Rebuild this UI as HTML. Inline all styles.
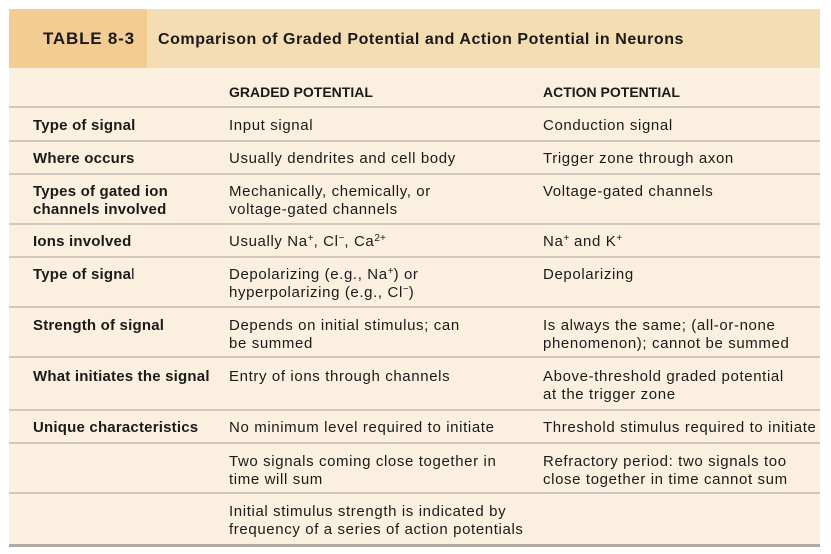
<!DOCTYPE html>
<html><head><meta charset="utf-8"><style>
body{margin:0;width:831px;height:554px;background:#fff;position:relative;overflow:hidden;font-family:"Liberation Sans","DejaVu Sans",sans-serif;color:#1a1a1a}
.a{position:absolute}
.t{position:absolute;font-size:15px;line-height:18px;white-space:nowrap;letter-spacing:0.62px;margin-top:1px}
.b{font-weight:bold;letter-spacing:0.2px}
.h{letter-spacing:0;font-size:14px}
.l{position:absolute;left:9px;width:811px;height:2px;background:#cfc8bd}
sup{font-size:10px;line-height:0;vertical-align:5px;letter-spacing:0}
</style></head><body>
<div class="a" style="left:9px;top:9px;width:138px;height:59px;background:#f2cc92"></div>
<div class="a" style="left:147px;top:9px;width:673px;height:59px;background:#f4ddb3"></div>
<div class="a" style="left:9px;top:68px;width:811px;height:477px;background:#fbf0df"></div>
<div class="t b" style="left:43px;top:29px;font-size:17px;letter-spacing:0.8px">TABLE 8-3</div>
<div class="t b" style="left:158px;top:30px;font-size:16px;letter-spacing:0.55px">Comparison of Graded Potential and Action Potential in Neurons</div>
<div class="t b h" style="left:229px;top:82px">GRADED POTENTIAL</div>
<div class="t b h" style="left:543px;top:82px">ACTION POTENTIAL</div>
<div class="l" style="top:106px"></div>
<div class="l" style="top:140px"></div>
<div class="l" style="top:173px"></div>
<div class="l" style="top:223px"></div>
<div class="l" style="top:256px"></div>
<div class="l" style="top:306px"></div>
<div class="l" style="top:356px"></div>
<div class="l" style="top:409px"></div>
<div class="l" style="top:442px"></div>
<div class="l" style="top:492px"></div>
<div class="l" style="top:544px;height:3px;background:#b0aaa2"></div>

<div class="t b" style="left:33px;top:116px">Type of signal</div>
<div class="t" style="left:229px;top:116px">Input signal</div>
<div class="t" style="left:543px;top:116px">Conduction signal</div>

<div class="t b" style="left:33px;top:149px">Where occurs</div>
<div class="t" style="left:229px;top:149px">Usually dendrites and cell body</div>
<div class="t" style="left:543px;top:149px">Trigger zone through axon</div>

<div class="t b" style="left:33px;top:182px">Types of gated ion<br>channels involved</div>
<div class="t" style="left:229px;top:182px">Mechanically, chemically, or<br>voltage-gated channels</div>
<div class="t" style="left:543px;top:182px">Voltage-gated channels</div>

<div class="t b" style="left:33px;top:232px">Ions involved</div>
<div class="t" style="left:229px;top:232px">Usually Na<sup>+</sup>, Cl<sup>−</sup>, Ca<sup>2+</sup></div>
<div class="t" style="left:543px;top:232px">Na<sup>+</sup> and K<sup>+</sup></div>

<div class="t b" style="left:33px;top:265px">Type of signa<span style="font-weight:normal">l</span></div>
<div class="t" style="left:229px;top:265px">Depolarizing (e.g., Na<sup>+</sup>) or<br>hyperpolarizing (e.g., Cl<sup>−</sup>)</div>
<div class="t" style="left:543px;top:265px">Depolarizing</div>

<div class="t b" style="left:33px;top:316px">Strength of signal</div>
<div class="t" style="left:229px;top:316px">Depends on initial stimulus; can<br>be summed</div>
<div class="t" style="left:543px;top:316px">Is always the same; (all-or-none<br>phenomenon); cannot be summed</div>

<div class="t b" style="left:33px;top:367px">What initiates the signal</div>
<div class="t" style="left:229px;top:367px">Entry of ions through channels</div>
<div class="t" style="left:543px;top:367px">Above-threshold graded potential<br>at the trigger zone</div>

<div class="t b" style="left:33px;top:418px">Unique characteristics</div>
<div class="t" style="left:229px;top:418px">No minimum level required to initiate</div>
<div class="t" style="left:543px;top:418px">Threshold stimulus required to initiate</div>

<div class="t" style="left:229px;top:452px">Two signals coming close together in<br>time will sum</div>
<div class="t" style="left:543px;top:452px">Refractory period: two signals too<br>close together in time cannot sum</div>

<div class="t" style="left:229px;top:502px">Initial stimulus strength is indicated by<br>frequency of a series of action potentials</div>
</body></html>
